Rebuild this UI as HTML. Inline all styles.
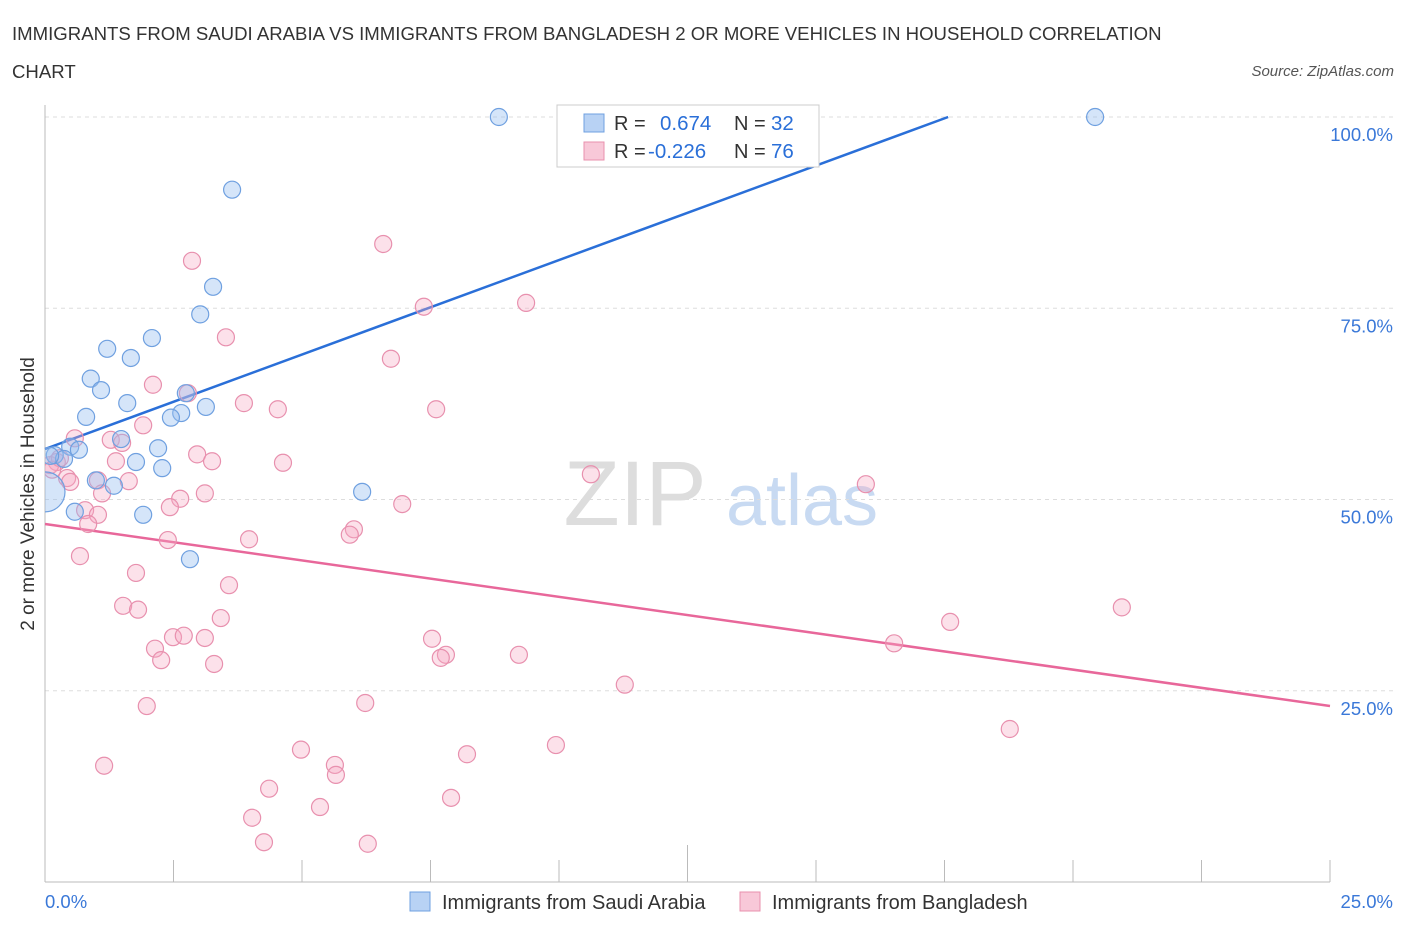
<!DOCTYPE html>
<html><head><meta charset="utf-8"><style>
body{margin:0;background:#fff;font-family:"Liberation Sans",sans-serif;}
svg text{font-family:"Liberation Sans",sans-serif;}
</style></head><body>
<svg id="chart" width="1406" height="930" xmlns="http://www.w3.org/2000/svg">
<defs><clipPath id="plotclip"><rect x="45" y="100" width="1360" height="782"/></clipPath></defs>
<text x="12" y="40" font-size="18.6" fill="#333">IMMIGRANTS FROM SAUDI ARABIA VS IMMIGRANTS FROM BANGLADESH 2 OR MORE VEHICLES IN HOUSEHOLD CORRELATION</text>
<text x="12" y="78" font-size="18.6" fill="#333">CHART</text>
<text x="1394" y="76" font-size="15" fill="#555" text-anchor="end" font-style="italic">Source: ZipAtlas.com</text>
<text transform="translate(34,494) rotate(-90)" font-size="19" fill="#333" text-anchor="middle">2 or more Vehicles in Household</text>
<g>
<text x="635" y="525" font-size="92" fill="#ddd" text-anchor="middle" font-family="Liberation Serif">ZIP</text>
<text x="802" y="525" font-size="72" fill="#c8daf2" text-anchor="middle">atlas</text>
</g>
<g id="grid"></g><g id="axes"></g><g id="lines"></g><g id="pts" clip-path="url(#plotclip)"></g>
<g>
<rect x="557" y="105" width="262" height="62" fill="#fff" stroke="#ccc"/>
<rect x="584" y="114" width="20" height="18" fill="#b8d2f4" stroke="#6fa0e0"/>
<text x="614" y="130" font-size="20" fill="#333">R = </text><text x="660" y="130" font-size="20.5" fill="#2a6fd8">0.674</text>
<text x="734" y="130" font-size="20" fill="#333">N = </text><text x="771" y="130" font-size="20.5" fill="#2a6fd8">32</text>
<rect x="584" y="142" width="20" height="18" fill="#f8c8d8" stroke="#e890ae"/>
<text x="614" y="158" font-size="20" fill="#333">R = </text><text x="648" y="158" font-size="20.5" fill="#2a6fd8">-0.226</text>
<text x="734" y="158" font-size="20" fill="#333">N = </text><text x="771" y="158" font-size="20.5" fill="#2a6fd8">76</text>
</g>
<g>
<rect x="410" y="892" width="20" height="19" fill="#b8d2f4" stroke="#6fa0e0"/>
<text x="442" y="909" font-size="20" fill="#333">Immigrants from Saudi Arabia</text>
<rect x="740" y="892" width="20" height="19" fill="#f8c8d8" stroke="#e890ae"/>
<text x="772" y="909" font-size="20" fill="#333">Immigrants from Bangladesh</text>
</g>
</svg>
<script>
const yTicks=[25,50,75,100];
const yTickLabels=["25.0%","50.0%","75.0%","100.0%"];
const xTickLabels=["0.0%","25.0%"];
const blueX=[8.83,20.43,3.64,3.27,3.02,2.08,1.21,1.67,0.89,1.09,1.60,2.74,3.13,2.65,2.45,0.80,1.48,2.20,0.49,0.66,0.19,0.37,0.10,1.77,2.28,0.99,1.34,6.17,0.58,1.91,2.82,0.0];
const blueY=[100,100,90.5,77.8,74.2,71.1,69.7,68.5,65.8,64.3,62.6,63.9,62.1,61.3,60.7,60.8,57.9,56.7,56.9,56.5,55.8,55.3,55.7,54.9,54.1,52.5,51.8,51.0,48.4,48.0,42.2,51.0];
const pinkX=[6.58,2.86,7.37,9.36,3.52,6.73,2.10,2.78,3.87,4.53,7.61,1.91,0.58,1.28,1.50,2.96,3.25,4.63,1.38,0.23,0.10,0.43,0.49,1.63,1.03,10.62,15.97,2.63,3.11,1.11,2.43,6.95,0.78,1.03,0.84,6.01,5.93,2.39,3.97,0.68,1.77,3.58,1.52,1.81,20.95,3.42,17.61,2.49,2.70,3.11,7.53,16.52,2.14,2.26,3.29,7.80,7.70,9.22,11.28,1.98,6.23,18.77,9.94,1.15,4.98,8.21,5.64,5.66,4.36,7.90,5.35,4.03,4.26,6.28,0.29,0.14];
const pinkY=[83.4,81.2,75.2,75.7,71.2,68.4,65.0,63.9,62.6,61.8,61.8,59.7,58.0,57.8,57.4,55.9,55.0,54.8,55.0,54.9,54.5,52.8,52.3,52.4,52.5,53.3,52.0,50.1,50.8,50.8,49.0,49.4,48.6,48.0,46.8,46.1,45.4,44.7,44.8,42.6,40.4,38.8,36.1,35.6,35.9,34.5,34.0,32.0,32.2,31.9,31.8,31.2,30.5,29.0,28.5,29.7,29.3,29.7,25.8,23.0,23.4,20.0,17.9,15.2,17.3,16.7,15.3,14.0,12.2,11.0,9.8,8.4,5.2,5.0,55.4,53.9];
const blueTrend=[56.6,2.47];
const pinkTrend=[46.8,-0.952];
const NS="http://www.w3.org/2000/svg";
const X=v=>45+v/25*1285, Y=v=>882-v*7.65;
function mk(t,a,p){const e=document.createElementNS(NS,t);for(const k in a)e.setAttribute(k,a[k]);document.getElementById(p).appendChild(e);return e;}
yTicks.forEach((t,i)=>{
 const g=mk('line',{x1:45,x2:1393,y1:Y(t),y2:Y(t),stroke:'#ddd','stroke-dasharray':'4,4'},'grid');
 
 
 const l=mk('text',{x:1393,y:Y(t)+24,'font-size':18.5,fill:'#3a78d8','text-anchor':'end'},'axes');
 l.textContent=yTickLabels[i];
 
 
});
const ax=mk('line',{x1:45,x2:1330,y1:882,y2:882,stroke:'#bbb'},'axes');


const ay=mk('line',{x1:45,x2:45,y1:105,y2:882,stroke:'#bbb'},'axes');


for(let i=0;i<=10;i++){const t=mk('line',{x1:X(i*2.5),x2:X(i*2.5),y1:i==5?845:860,y2:882,stroke:'#bbb'},'axes');
 
 }
[[0,'start'],[25,'end']].forEach((d,i)=>{const l=mk('text',{x:i?1393:45,y:908,'font-size':18.5,fill:'#3a78d8','text-anchor':d[1]},'axes');l.textContent=xTickLabels[i];
 
 });
let bx2=(100-blueTrend[0])/blueTrend[1];
const bl=mk('line',{x1:X(0),y1:Y(blueTrend[0]),x2:X(bx2),y2:Y(100),stroke:'#2a6fd8','stroke-width':2.5},'lines');


const pl=mk('line',{x1:X(0),y1:Y(pinkTrend[0]),x2:X(25),y2:Y(pinkTrend[0]+25*pinkTrend[1]),stroke:'#e8679a','stroke-width':2.5},'lines');


pinkX.forEach((x,i)=>{const c=mk('circle',{cx:X(x),cy:Y(pinkY[i]),r:8.5,fill:'rgba(245,170,195,0.35)',stroke:'#e890ae','stroke-width':1.2},'pts');
 
 });
blueX.forEach((x,i)=>{const c=mk('circle',{cx:X(x),cy:Y(blueY[i]),r:i==31?20:8.5,fill:'rgba(150,190,240,0.4)',stroke:'#6fa0e0','stroke-width':1.2},'pts');
 
 });
</script>
</body></html>
